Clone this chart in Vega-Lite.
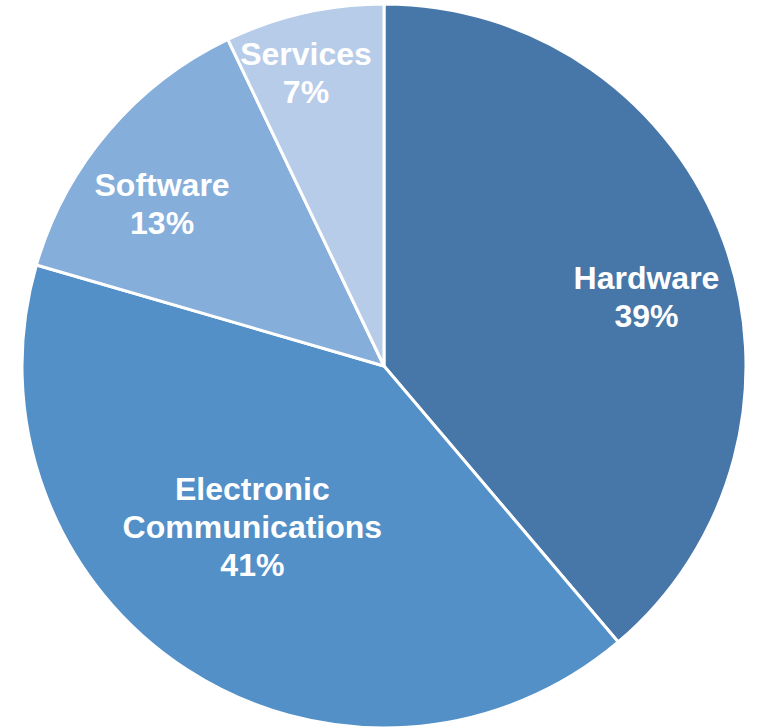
{
  "$schema": "https://vega.github.io/schema/vega-lite/v6.json",
  "width": 750,
  "height": 722,
  "autosize": {"type": "none"},
  "padding": {"left": 9, "top": 5, "right": 0, "bottom": 0},
  "background": "white",
  "config": {"view": {"stroke": null}},
  "data": {
    "values": [
      {"cat": "Hardware", "value": 38.8, "ord": 1, "label": "Hardware\n39%"},
      {"cat": "Electronic Communications", "value": 40.7, "ord": 2, "label": "Electronic\nCommunications\n41%"},
      {"cat": "Software", "value": 13.4, "ord": 3, "label": "Software\n13%"},
      {"cat": "Services", "value": 7.1, "ord": 4, "label": "Services\n7%"}
    ]
  },
  "encoding": {
    "theta": {"field": "value", "type": "quantitative", "stack": true},
    "order": {"field": "ord", "type": "quantitative"}
  },
  "layer": [
    {
      "mark": {"type": "arc", "outerRadius": 362, "stroke": "white", "strokeWidth": 3},
      "encoding": {
        "color": {
          "field": "cat",
          "type": "nominal",
          "scale": {
            "domain": ["Hardware", "Electronic Communications", "Software", "Services"],
            "range": ["#4777A8", "#5390C8", "#85AEDB", "#B7CCE8"]
          },
          "legend": null
        }
      }
    },
    {
      "mark": {"type": "text", "radius": 270, "dx": 9, "dy": 6, "lineBreak": "\n", "font": "Liberation Sans", "fontWeight": "bold", "fontSize": 32, "lineHeight": 38, "fill": "white", "align": "center", "baseline": "middle"},
      "encoding": {"text": {"condition": {"test": "datum.cat === 'Hardware'", "field": "label"}, "value": ""}}
    },
    {
      "mark": {"type": "text", "radius": 209, "dx": -18, "dy": -51, "lineBreak": "\n", "font": "Liberation Sans", "fontWeight": "bold", "fontSize": 32, "lineHeight": 38, "fill": "white", "align": "center", "baseline": "middle"},
      "encoding": {"text": {"condition": {"test": "datum.cat === 'Electronic Communications'", "field": "label"}, "value": ""}}
    },
    {
      "mark": {"type": "text", "radius": 274, "dx": -13, "dy": -3, "lineBreak": "\n", "font": "Liberation Sans", "fontWeight": "bold", "fontSize": 32, "lineHeight": 38, "fill": "white", "align": "center", "baseline": "middle"},
      "encoding": {"text": {"condition": {"test": "datum.cat === 'Software'", "field": "label"}, "value": ""}}
    },
    {
      "mark": {"type": "text", "radius": 303, "dx": -11, "dy": -16, "lineBreak": "\n", "font": "Liberation Sans", "fontWeight": "bold", "fontSize": 32, "lineHeight": 38, "fill": "white", "align": "center", "baseline": "middle"},
      "encoding": {"text": {"condition": {"test": "datum.cat === 'Services'", "field": "label"}, "value": ""}}
    }
  ]
}
